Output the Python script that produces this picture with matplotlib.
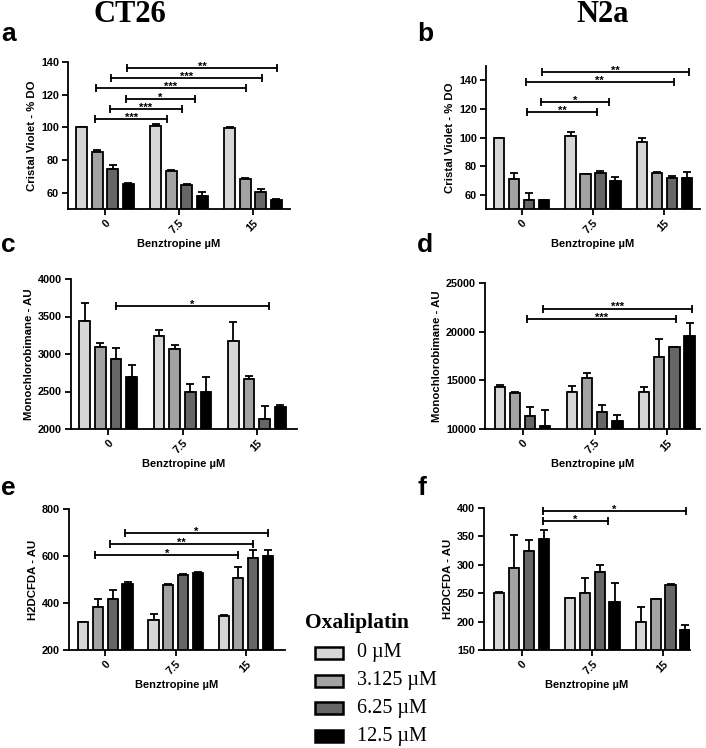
import numpy as np
import matplotlib
matplotlib.use('Agg')
import matplotlib.pyplot as plt
from matplotlib.patches import Rectangle

plt.rcParams['font.family'] = ['Liberation Sans', 'DejaVu Sans']

# benztropine doses (x groups) and oxaliplatin doses (series)
groups = ['0', '7.5', '15']
oxali = ['0 µM', '3.125 µM', '6.25 µM', '12.5 µM']
colors = ['#d6d6d6', '#a3a3a3', '#666666', '#000000']

# panel a - CT26 cristal violet (one list per oxaliplatin dose)
a_mean = [[100, 101, 99.3], [84.7, 73.2, 68.3], [74.2, 64.5, 60.2], [65.5, 58, 55.6]]
a_err = [[0, 1.2, 1.2], [1.2, 0.6, 0.5], [2.6, 1.0, 2.0], [0.4, 2.6, 0.5]]
a_sig = [(-0.135, 0.842, 105.2, '***'), (0.068, 1.036, 111, '***'), (0.284, 1.216, 117.5, '*'),
         (-0.122, 1.905, 123.8, '***'), (0.081, 2.117, 130, '***'), (0.3, 2.33, 136.4, '**')]

# panel b - N2a cristal violet
b_mean = [[100, 101, 97], [70.9, 74.5, 75.5], [56.6, 75, 72], [56, 69.6, 71.6]]
b_err = [[0, 2.6, 3], [4.5, 0, 0.3], [4.5, 1.5, 1], [0.2, 3, 4]]
b_sig = [(0.076, 1.055, 118, '**'), (0.275, 1.22, 125, '*'),
         (0.062, 2.13, 138.8, '**'), (0.29, 2.35, 145.8, '**')]

# panel c - CT26 monochlorobimane
c_mean = [[3436, 3236, 3178], [3093, 3067, 2671], [2933, 2489, 2138], [2689, 2498, 2293]]
c_err = [[244, 80, 244], [54, 57, 31], [147, 115, 164], [169, 191, 23]]
c_sig = [(0.104, 2.163, 3644, '*')]

# panel d - N2a monochlorobimane
d_mean = [[14363, 13750, 13750], [13681, 15215, 17430], [11294, 11737, 18386], [10272, 10851, 19545]]
d_err = [[137, 680, 544], [69, 580, 1774], [956, 681, 68], [1704, 545, 1295]]
d_sig = [(0.06, 2.13, 21250, '***'), (0.28, 2.35, 22375, '***')]

# panel e - CT26 H2DCFDA
e_mean = [[320.6, 327.7, 344.7], [384.4, 476.6, 505], [417, 519, 593], [479.4, 529, 600]]
e_err = [[0, 25, 3], [33, 3, 47], [38, 3, 31], [11, 4, 25]]
e_sig = [(-0.143, 1.894, 604, '*'), (0.061, 2.109, 651, '**'), (0.276, 2.32, 699, '*')]

# panel f - N2a H2DCFDA
f_mean = [[251, 241, 200], [295, 250, 239.4], [324.7, 286.5, 264], [346, 234.7, 185.3]]
f_err = [[1, 1, 25], [57, 26.5, 0.5], [19, 13.5, 2], [16, 33, 8]]
f_sig = [(0.3, 1.22, 376.5, '*'), (0.3, 2.33, 394, '*')]


def bar_panel(ax, mean, err, sig, ylim, yticks, ylabel, xlim=(-0.5, 2.5)):
    x = np.arange(len(groups))
    pitch = 0.21
    for i in range(len(oxali)):
        xi = x + (i - 1.5) * pitch
        ax.errorbar(xi, mean[i], yerr=[np.zeros(3), err[i]], fmt='none',
                    ecolor='black', elinewidth=1.3, capsize=3, capthick=1.3, zorder=1)
        ax.bar(xi, mean[i], width=0.145, color=colors[i], edgecolor='black',
               linewidth=1.3, zorder=2)
    for x1, x2, y, lab in sig:
        ax.plot([x1, x2], [y, y], color='black', lw=1.3, clip_on=False)
        ax.plot([x1, x2], [y, y], ls='none', marker='|', ms=6, mew=1.3,
                color='black', clip_on=False)
        ax.annotate(lab, ((x1 + x2) / 2, y), xytext=(0, -1.2), textcoords='offset points',
                    ha='center', va='baseline', fontsize=8, fontweight='bold')
    ax.set_xlim(*xlim)
    ax.set_ylim(*ylim)
    ax.set_yticks(yticks)
    ax.set_xticks(x)
    ax.set_xticklabels(groups, rotation=45, ha='right', rotation_mode='anchor')
    for t in ax.get_xticklabels() + ax.get_yticklabels():
        t.set_fontweight('bold')
        t.set_fontsize(7.8)
    ax.spines['top'].set_visible(False)
    ax.spines['right'].set_visible(False)
    ax.spines['left'].set_linewidth(1.3)
    ax.spines['bottom'].set_linewidth(1.3)
    ax.tick_params(width=1.3, length=4, pad=2.5)
    ax.set_ylabel(ylabel, fontsize=8.2, fontweight='bold', labelpad=3)
    ax.set_xlabel('Benztropine µM', fontsize=8, fontweight='bold', labelpad=2)


fig = plt.figure(figsize=(7.06, 7.48), dpi=100)
W, H = 706.0, 748.0


def add_ax(l, r, t, b):
    return fig.add_axes([l / W, 1 - b / H, (r - l) / W, (b - t) / H])


ax_a = add_ax(68, 290, 62, 209)
bar_panel(ax_a, a_mean, a_err, a_sig, (50, 140), [60, 80, 100, 120, 140],
          'Cristal Violet - % DO')
ax_b = add_ax(486, 700, 66, 209)
bar_panel(ax_b, b_mean, b_err, b_sig, (50, 150), [60, 80, 100, 120, 140],
          'Cristal Violet - % DO')
ax_c = add_ax(71, 297, 279, 429)
bar_panel(ax_c, c_mean, c_err, c_sig, (2000, 4000), [2000, 2500, 3000, 3500, 4000],
          'Monochlorobimane - AU', xlim=(-0.5, 2.54))
ax_d = add_ax(485, 700, 283, 429)
bar_panel(ax_d, d_mean, d_err, d_sig, (10000, 25000), [10000, 15000, 20000, 25000],
          'Monochlorobimane - AU', xlim=(-0.52, 2.46))
ax_e = add_ax(69, 285, 509, 650)
bar_panel(ax_e, e_mean, e_err, e_sig, (200, 800), [200, 400, 600, 800],
          'H2DCFDA - AU', xlim=(-0.52, 2.56))
ax_f = add_ax(484, 690, 508, 650)
bar_panel(ax_f, f_mean, f_err, f_sig, (150, 400), [150, 200, 250, 300, 350, 400],
          'H2DCFDA - AU', xlim=(-0.53, 2.38))

# column titles
fig.text(130 / W, 1 - 14 / H, 'CT26', ha='center', va='center', fontsize=22,
         fontweight='bold', family='Liberation Serif')
fig.text(603 / W, 1 - 14 / H, 'N2a', ha='center', va='center', fontsize=22,
         fontweight='bold', family='Liberation Serif')

# panel letters
for lab, px, py in [('a', 1, 34), ('b', 417, 34), ('c', 1, 245),
                    ('d', 417, 245), ('e', 1, 488), ('f', 418, 488)]:
    fig.text(px / W, 1 - py / H, lab, ha='left', va='center', fontsize=19,
             fontweight='bold')

# legend, drawn by hand to match the original placement
fig.text(305 / W, 1 - 623 / H, 'Oxaliplatin', ha='left', va='center', fontsize=15.5,
         fontweight='bold', family='Liberation Serif')
for i, lab in enumerate(oxali):
    yc = 653 + i * 27.7
    fig.add_artist(Rectangle((315 / W, 1 - (yc + 6) / H), 28 / W, 12 / H,
                             transform=fig.transFigure, facecolor=colors[i],
                             edgecolor='black', linewidth=1.8))
    fig.text(357 / W, 1 - yc / H, lab, ha='left', va='center', fontsize=14.5,
             family='Liberation Serif')

fig.savefig('out.png', dpi=100)
